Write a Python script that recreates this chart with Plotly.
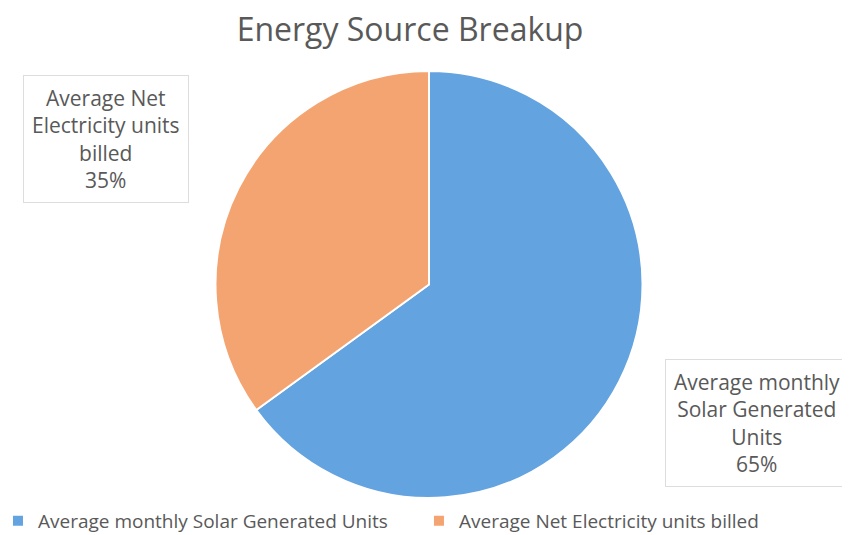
import plotly.graph_objects as go

categories = ["Average monthly Solar Generated Units", "Average Net Electricity units billed"]
values = [65, 35]
colors = ["#63A3E0", "#F4A470"]
label_lines = [["Average monthly", "Solar Generated", "Units"], ["Average Net", "Electricity units", "billed"]]

total = sum(values)
pcts = [f"{round(v / total * 100)}%" for v in values]

FONT = "'Open Sans', Lato, sans-serif"
GREY = "#595959"

fig = go.Figure(go.Pie(
    labels=categories,
    values=values,
    sort=False,
    direction="clockwise",
    rotation=0,
    marker=dict(colors=colors, line=dict(color="white", width=2)),
    textinfo="none",
    hoverinfo="label+percent",
    domain=dict(x=[0.0, 0.9906], y=[0.0081, 0.8725]),
))

fig.add_annotation(
    x=0.8812, y=0.1599, xref="paper", yref="paper",
    xanchor="center", yanchor="middle",
    text="<br>".join(label_lines[0] + [pcts[0]]),
    showarrow=False, align="center",
    font=dict(family=FONT, size=21, color=GREY),
    bgcolor="white", bordercolor="#DDDDDD", borderwidth=1, borderpad=8,
)
fig.add_annotation(
    x=0.1153, y=0.7348, xref="paper", yref="paper",
    xanchor="center", yanchor="middle",
    text="<br>".join(label_lines[1] + [pcts[1]]),
    showarrow=False, align="center",
    font=dict(family=FONT, size=21, color=GREY),
    bgcolor="white", bordercolor="#DDDDDD", borderwidth=1, borderpad=8,
)

fig.update_layout(
    width=850, height=535,
    paper_bgcolor="white", plot_bgcolor="white",
    margin=dict(l=0, r=0, t=0, b=41, autoexpand=False),
    title=dict(text="Energy Source Breakup", x=0.473, xanchor="center", y=0.959, yanchor="middle",
               font=dict(family=FONT, size=32, color=GREY)),
    legend=dict(orientation="h", x=-0.0118, xanchor="left", y=0, yanchor="top",
                font=dict(family=FONT, size=19, color=GREY), entrywidth=376,
                traceorder="normal", itemwidth=30),
    showlegend=True,
)

fig.write_html("out.html")
